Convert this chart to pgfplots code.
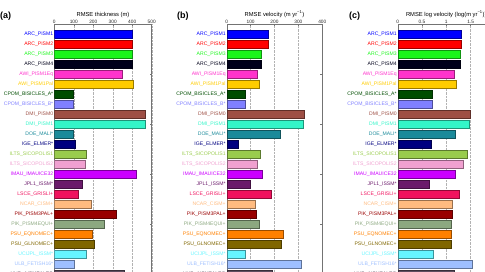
\documentclass[border=0pt]{standalone}
\usepackage{fontspec}
\setmainfont{Liberation Sans}
\usepackage{pgfplots}
\usepackage{pgfplotstable}
\pgfplotsset{compat=1.18}

% model colours (bars and labels)
\definecolor{m0}{HTML}{0000FF}
\definecolor{m1}{HTML}{FF0000}
\definecolor{m2}{HTML}{1AF51A}
\definecolor{m3}{HTML}{00001A}
\definecolor{m4}{HTML}{FF33CC}
\definecolor{m5}{HTML}{FFCC00}
\definecolor{m6}{HTML}{004D00}
\definecolor{m7}{HTML}{8080FF}
\definecolor{m8}{HTML}{9E4F45}
\definecolor{m9}{HTML}{33F5C8}
\definecolor{m10}{HTML}{1A8A9A}
\definecolor{m11}{HTML}{000080}
\definecolor{m12}{HTML}{99CC4D}
\definecolor{m13}{HTML}{F0A0D0}
\definecolor{m14}{HTML}{CC00FF}
\definecolor{m15}{HTML}{6B1A6B}
\definecolor{m16}{HTML}{F0125E}
\definecolor{m17}{HTML}{FFBB80}
\definecolor{m18}{HTML}{990000}
\definecolor{m19}{HTML}{8CA880}
\definecolor{m20}{HTML}{FF8000}
\definecolor{m21}{HTML}{806600}
\definecolor{m22}{HTML}{66F5FF}
\definecolor{m23}{HTML}{9EBFFF}
\definecolor{m24}{HTML}{5E4E60}

% RMSE per model: thickness (m), velocity (m/yr), log velocity
\pgfplotstableread{
row thick vel logvel
1  402 173 1.30
2  402 173 1.30
3  399 144 1.28
4  399 144 1.28
5  347 127 1.16
6  406 135 1.21
7  96  78  0.71
8  96  78  0.71
9  469 326 1.49
10 469 321 1.48
11 96  223 1.19
12 106 50  0.68
13 164 139 1.42
14 161 128 1.35
15 419 149 1.19
16 144 97  0.64
17 122 188 1.27
18 190 118 1.12
19 320 123 1.13
20 257 135 1.09
21 195 236 1.10
22 204 230 1.10
23 166 79  0.72
24 100 311 1.53
25 359 192 1.16
}\models

\newcommand\lab[2]{\textcolor{#1}{#2}}

\pgfplotsset{
  mbar/.style={xbar, bar shift=0pt, bar width=8pt, fill=#1, draw=#1!60!black, line width=0.35pt},
  panel/.style={
    scale only axis, height=279.2pt, anchor=north west,
    y dir=reverse, ymin=0, ymax=28,
    ytick={1,...,25},
    yticklabels={\lab{m0}{ARC\_PISM1},\lab{m1}{ARC\_PISM2},\lab{m2}{ARC\_PISM3},\lab{m3}{ARC\_PISM4},
      \lab{m4}{AWI\_PISM1Eq},\lab{m5}{AWI\_PISM1Pal},\lab{m6}{CPOM\_BISICLES\_A*},\lab{m7}{CPOM\_BISICLES\_B*},
      \lab{m8}{DMI\_PISM0},\lab{m9}{DMI\_PISM1},\lab{m10}{DOE\_MALI*},\lab{m11}{IGE\_ELMER*},
      \lab{m12}{ILTS\_SICOPOLIS1},\lab{m13}{ILTS\_SICOPOLIS2},\lab{m14}{IMAU\_IMAUICE32},\lab{m15}{JPL1\_ISSM*},
      \lab{m16}{LSCE\_GRISLI+},\lab{m17}{NCAR\_CISM+},\lab{m18}{PIK\_PISM3PAL+},\lab{m19}{PIK\_PISM4EQUI+},
      \lab{m20}{PSU\_EQNOMEC+},\lab{m21}{PSU\_GLNOMEC+},\lab{m22}{UCIJPL\_ISSM*},\lab{m23}{ULB\_FETISH16*},
      \lab{m24}{VUB\_AISMPALEO}},
    yticklabel style={font=\fontsize{5.1}{5.1}\selectfont, inner sep=0.9pt},
    ytick style={draw=none},
    xtick pos=both, xticklabel pos=right,
    xticklabel style={font=\fontsize{4.8}{4.8}\selectfont, text=black!85, inner sep=1pt},
    xlabel style={font=\fontsize{5.8}{5.8}\selectfont, inner sep=1pt},
    /pgf/number format/assume math mode=true,
    tick align=inside, major tick length=2pt,
    tick style={black!55, line width=0.4pt},
    axis line style={black!55, line width=0.4pt},
    xmajorgrids, major grid style={densely dotted, black!30, line width=0.35pt},
  },
}

\begin{document}
\begin{tikzpicture}
\useasboundingbox (0,0) rectangle (485pt,-272pt);
\clip (0,0) rectangle (485pt,-272pt);

% (a) ice thickness
\begin{axis}[panel, at={(54.3pt,-24.5pt)}, width=97.4pt,
  xmin=0, xmax=500, xtick={0,100,...,500}, xlabel={RMSE thickness (m)}]
\pgfplotsinvokeforeach{0,...,24}{
  \addplot[mbar=m#1] table[x=thick, y=row, restrict expr to domain={\coordindex}{#1:#1}] {\models};
}
\pgfplotsinvokeforeach{5,10,15,20,25}{\draw[black!55, line width=0.4pt] (axis cs:500,#1) -- ++(-2pt,0);}
\end{axis}

% (b) surface velocity
\begin{axis}[panel, at={(226.7pt,-24.5pt)}, width=95.6pt,
  xmin=0, xmax=400, xtick={0,100,...,400}, xlabel={RMSE velocity (m yr\textsuperscript{−1})}]
\pgfplotsinvokeforeach{0,...,24}{
  \addplot[mbar=m#1] table[x=vel, y=row, restrict expr to domain={\coordindex}{#1:#1}] {\models};
}
\pgfplotsinvokeforeach{5,10,15,20,25}{\draw[black!55, line width=0.4pt] (axis cs:400,#1) -- ++(-2pt,0);}
\end{axis}

% (c) log velocity
\begin{axis}[panel, at={(397.7pt,-24.5pt)}, width=97.2pt,
  xmin=0, xmax=2, xtick={0,0.5,...,2}, xlabel={RMSE log velocity (log(m yr\textsuperscript{−1}))}]
\pgfplotsinvokeforeach{0,...,24}{
  \addplot[mbar=m#1] table[x=logvel, y=row, restrict expr to domain={\coordindex}{#1:#1}] {\models};
}
\pgfplotsinvokeforeach{5,10,15,20,25}{\draw[black!55, line width=0.4pt] (axis cs:2,#1) -- ++(-2pt,0);}
\end{axis}

\node[anchor=west, inner sep=0pt, font=\fontsize{9}{9}\selectfont\bfseries] at (0pt,-16pt) {(a)};
\node[anchor=west, inner sep=0pt, font=\fontsize{9}{9}\selectfont\bfseries] at (177pt,-16pt) {(b)};
\node[anchor=west, inner sep=0pt, font=\fontsize{9}{9}\selectfont\bfseries] at (349pt,-16pt) {(c)};
\end{tikzpicture}
\end{document}
